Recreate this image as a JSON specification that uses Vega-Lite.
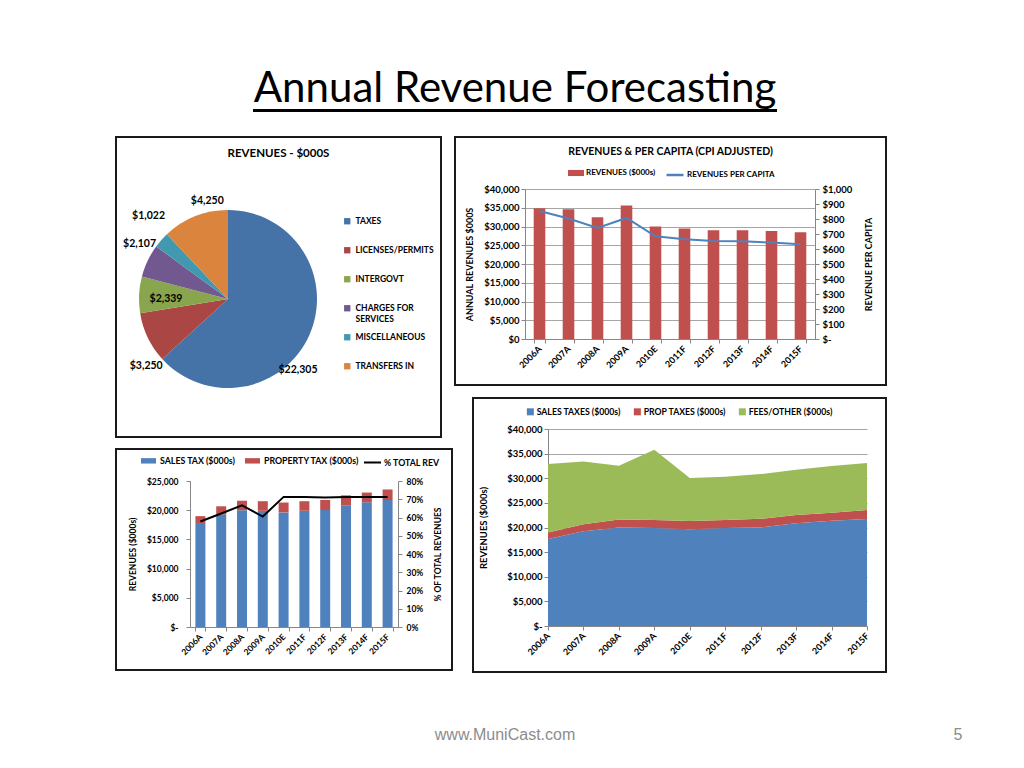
{
  "$schema": "https://vega.github.io/schema/vega-lite/v6.json",
  "background": "white",
  "padding": {"left": 112, "top": 66, "right": 10, "bottom": 10},
  "spacing": 24,
  "resolve": {
    "scale": {"color": "independent", "fill": "independent", "stroke": "independent", "theta": "independent"},
    "legend": {"color": "independent", "fill": "independent", "stroke": "independent"}
  },
  "datasets": {
    "pie": [
      {"cat": "TAXES", "v": 22305},
      {"cat": "LICENSES/PERMITS", "v": 3250},
      {"cat": "INTERGOVT", "v": 2339},
      {"cat": "CHARGES FOR SERVICES", "v": 2107},
      {"cat": "MISCELLANEOUS", "v": 1022},
      {"cat": "TRANSFERS IN", "v": 4250}
    ],
    "combo": [
      {"year": "2006A", "rev": 34900, "pc": 853},
      {"year": "2007A", "rev": 34600, "pc": 803},
      {"year": "2008A", "rev": 32500, "pc": 740},
      {"year": "2009A", "rev": 35600, "pc": 807},
      {"year": "2010E", "rev": 30000, "pc": 685},
      {"year": "2011F", "rev": 29500, "pc": 665},
      {"year": "2012F", "rev": 29000, "pc": 653},
      {"year": "2013F", "rev": 29000, "pc": 651},
      {"year": "2014F", "rev": 28800, "pc": 643},
      {"year": "2015F", "rev": 28500, "pc": 631}
    ],
    "tax": [
      {"year": "2006A", "sales": 17650, "prop": 1330, "fees": 13890, "pct": 0.578},
      {"year": "2007A", "sales": 19250, "prop": 1420, "fees": 12740, "pct": 0.622},
      {"year": "2008A", "sales": 20000, "prop": 1620, "fees": 10910, "pct": 0.667},
      {"year": "2009A", "sales": 19900, "prop": 1640, "fees": 14250, "pct": 0.605},
      {"year": "2010E", "sales": 19620, "prop": 1690, "fees": 8720, "pct": 0.713},
      {"year": "2011F", "sales": 19900, "prop": 1640, "fees": 8750, "pct": 0.713},
      {"year": "2012F", "sales": 20020, "prop": 1740, "fees": 9080, "pct": 0.71},
      {"year": "2013F", "sales": 20860, "prop": 1680, "fees": 9180, "pct": 0.713},
      {"year": "2014F", "sales": 21350, "prop": 1670, "fees": 9450, "pct": 0.713},
      {"year": "2015F", "sales": 21730, "prop": 1820, "fees": 9530, "pct": 0.713}
    ]
  },
  "vconcat": [
    {
      "hconcat": [
        {"width": 1, "height": 1, "data": {"values": []}, "mark": "point"},
        {
          "width": 522, "height": 1,
          "view": {"stroke": "#000", "strokeWidth": 2},
          "data": {"values": [{"t": "Annual Revenue Forecasting"}]},
          "mark": {"type": "text", "font": "Lato", "fontSize": 42, "baseline": "alphabetic", "dy": -9, "color": "#000"},
          "encoding": {"text": {"field": "t", "type": "nominal"}}
        }
      ],
      "spacing": 135
    },
    {
      "resolve": {
        "scale": {"color": "independent", "fill": "independent", "stroke": "independent", "theta": "independent"},
        "legend": {"color": "independent", "fill": "independent", "stroke": "independent"}
      },
      "hconcat": [
        {
          "resolve": {
            "scale": {"color": "independent", "fill": "independent", "stroke": "independent", "theta": "independent"},
            "legend": {"color": "independent", "fill": "independent", "stroke": "independent"}
          },
          "vconcat": [
            {
              "width": 325, "height": 300,
              "view": {"stroke": "#1a1a1a", "strokeWidth": 2},
              "title": {"text": "REVENUES - $000S", "fontSize": 11.5, "frame": "group", "anchor": "middle", "offset": -22},
              "data": {"name": "pie"},
              "transform": [{"window": [{"op": "row_number", "as": "idx"}]}],
              "encoding": {
                "theta": {"field": "v", "type": "quantitative", "stack": true},
                "order": {"field": "idx", "type": "quantitative"}
              },
              "layer": [
                {
                  "mark": {"type": "arc", "outerRadius": 89, "x": 112, "y": 162},
                  "encoding": {
                    "color": {
                      "field": "cat", "type": "nominal",
                      "scale": {"domain": ["TAXES", "LICENSES/PERMITS", "INTERGOVT", "CHARGES FOR SERVICES", "MISCELLANEOUS", "TRANSFERS IN"],
                                "range": ["#4572A7", "#AA4643", "#89A54E", "#71588F", "#4198AF", "#DB843D"]},
                      "legend": {
                        "orient": "none", "direction": "vertical", "legendX": 227, "legendY": 80, "title": null,
                        "symbolType": "square", "symbolSize": 40, "symbolStrokeWidth": 0,
                        "labelFontSize": 8.5, "labelOffset": 4, "rowPadding": 9, "labelLimit": 200,
                        "labelExpr": "datum.label == 'CHARGES FOR SERVICES' ? ['CHARGES FOR', 'SERVICES'] : [datum.label, '']"
                      }
                    }
                  }
                },
                {
                  "mark": {"type": "text", "x": 112, "y": 162, "radius": 62, "thetaOffset": -0.05, "font": "Lato", "fontWeight": "bold", "fontSize": 10.5, "color": "#000"},
                  "encoding": {"text": {"condition": {"test": "datum.cat == 'INTERGOVT'", "field": "v", "type": "quantitative", "format": "$,.0f"}, "value": ""}}
                },
                {
                  "mark": {"type": "text", "x": 112, "y": 162, "radius": 104, "thetaOffset": 0.11, "font": "Lato", "fontWeight": "bold", "fontSize": 10.5, "color": "#000"},
                  "encoding": {"text": {"condition": {"test": "datum.cat == 'CHARGES FOR SERVICES'", "field": "v", "type": "quantitative", "format": "$,.0f"}, "value": ""}}
                },
                {
                  "mark": {"type": "text", "x": 112, "y": 162, "radius": 115, "thetaOffset": 0.085, "font": "Lato", "fontWeight": "bold", "fontSize": 10.5, "color": "#000"},
                  "encoding": {"text": {"condition": {"test": "datum.cat == 'MISCELLANEOUS'", "field": "v", "type": "quantitative", "format": "$,.0f"}, "value": ""}}
                },
                {
                  "mark": {"type": "text", "x": 112, "y": 162, "radius": 100, "thetaOffset": 0.38, "font": "Lato", "fontWeight": "bold", "fontSize": 10.5, "color": "#000"},
                  "encoding": {"text": {"condition": {"test": "datum.cat == 'TAXES'", "field": "v", "type": "quantitative", "format": "$,.0f"}, "value": ""}}
                },
                {
                  "mark": {"type": "text", "x": 112, "y": 162, "radius": 100, "thetaOffset": 0.17, "font": "Lato", "fontWeight": "bold", "fontSize": 10.5, "color": "#000"},
                  "encoding": {"text": {"condition": {"test": "datum.cat == 'TRANSFERS IN'", "field": "v", "type": "quantitative", "format": "$,.0f"}, "value": ""}}
                },
                {
                  "mark": {"type": "text", "x": 112, "y": 162, "radius": 106, "thetaOffset": -0.24, "font": "Lato", "fontWeight": "bold", "fontSize": 10.5, "color": "#000"},
                  "encoding": {"text": {"condition": {"test": "datum.cat == 'LICENSES/PERMITS'", "field": "v", "type": "quantitative", "format": "$,.0f"}, "value": ""}}
                }
              ]
            },
            {
              "width": 336, "height": 221,
              "view": {"stroke": "#1a1a1a", "strokeWidth": 2},
              "data": {"name": "tax"},
              "encoding": {
                "x": {
                  "field": "year", "type": "ordinal",
                  "scale": {"range": [74, 282], "paddingInner": 0.52, "paddingOuter": 0.26},
                  "axis": {"title": null, "labelAngle": -45, "labelAlign": "right", "labelBaseline": "middle", "offset": -43, "tickBand": "extent", "labelFontSize": 8.5, "labelPadding": 4, "grid": false}
                }
              },
              "layer": [
                {
                  "transform": [{"fold": ["sales", "prop"], "as": ["series", "v"]}],
                  "mark": {"type": "bar"},
                  "encoding": {
                    "y": {
                      "field": "v", "type": "quantitative", "stack": "zero",
                      "scale": {"domain": [0, 25000], "range": [178, 32], "nice": false},
                      "axis": {"title": "REVENUES ($000s)", "values": [0, 5000, 10000, 15000, 20000, 25000], "labelExpr": "datum.value == 0 ? '$-' : format(datum.value, '$,.0f')", "offset": -74, "grid": false, "labelFontSize": 8.5, "titleFontSize": 8.5, "labelPadding": 8, "titlePadding": 9}
                    },
                    "color": {
                      "field": "series", "type": "nominal",
                      "scale": {"domain": ["sales", "prop"], "range": ["#4F81BD", "#C0504D"]},
                      "legend": {
                        "orient": "none", "direction": "horizontal", "legendX": 25, "legendY": 4, "title": null,
                        "symbolType": "M-1,-0.36H1V0.36H-1Z", "symbolSize": 225, "symbolStrokeWidth": 0,
                        "labelFontSize": 8.8, "labelOffset": 4, "columnPadding": 9,
                        "labelExpr": "datum.label == 'sales' ? 'SALES TAX ($000s)' : 'PROPERTY TAX ($000s)'"
                      }
                    },
                    "order": {"field": "series", "sort": "descending"}
                  }
                },
                {
                  "mark": {"type": "line", "strokeWidth": 2},
                  "encoding": {
                    "y": {
                      "field": "pct", "type": "quantitative",
                      "scale": {"domain": [0, 0.8], "range": [178, 32], "nice": false},
                      "axis": {"orient": "right", "title": "% OF TOTAL REVENUES", "titleAngle": 270, "values": [0, 0.1, 0.2, 0.3, 0.4, 0.5, 0.6, 0.7, 0.8], "format": ".0%", "offset": -54, "grid": false, "labelFontSize": 8.5, "titleFontSize": 8.5, "labelPadding": 4, "titlePadding": 20}
                    },
                    "stroke": {
                      "datum": "% TOTAL REV",
                      "scale": {"range": ["#000000"]},
                      "legend": {"orient": "none", "legendX": 247, "legendY": 4, "title": null, "symbolType": "stroke", "symbolSize": 289, "symbolStrokeWidth": 2, "labelFontSize": 8.8, "labelOffset": 2}
                    }
                  }
                }
              ],
              "resolve": {"scale": {"y": "independent"}}
            }
          ],
          "spacing": 10
        },
        {
          "resolve": {
            "scale": {"color": "independent", "fill": "independent", "stroke": "independent", "theta": "independent"},
            "legend": {"color": "independent", "fill": "independent", "stroke": "independent"}
          },
          "vconcat": [
            {
              "width": 431, "height": 248,
              "view": {"stroke": "#1a1a1a", "strokeWidth": 2},
              "title": {"text": "REVENUES & PER CAPITA (CPI ADJUSTED)", "fontSize": 10.5, "frame": "group", "anchor": "middle", "offset": -20},
              "data": {"name": "combo"},
              "encoding": {
                "x": {
                  "field": "year", "type": "ordinal",
                  "scale": {"range": [70, 360], "paddingInner": 0.6, "paddingOuter": 0.3},
                  "axis": {"title": null, "labelAngle": -45, "labelAlign": "right", "labelBaseline": "middle", "offset": -46, "tickBand": "extent", "labelFontSize": 9, "labelPadding": 4, "grid": false}
                }
              },
              "layer": [
                {
                  "mark": {"type": "bar"},
                  "encoding": {
                    "y": {
                      "field": "rev", "type": "quantitative",
                      "scale": {"domain": [0, 40000], "range": [202, 52], "nice": false},
                      "axis": {"title": "ANNUAL REVENUES $000S", "values": [0, 5000, 10000, 15000, 20000, 25000, 30000, 35000, 40000], "format": "$,.0f", "offset": -70, "grid": true, "labelFontSize": 9.5, "labelPadding": 2, "titlePadding": 9}
                    },
                    "fill": {
                      "datum": "REVENUES ($000s)",
                      "scale": {"range": ["#C0504D"]},
                      "legend": {"orient": "none", "legendX": 113, "legendY": 28, "title": null, "symbolType": "M-1,-0.38H1V0.38H-1Z", "symbolSize": 256, "symbolStrokeWidth": 0, "labelFontSize": 8, "labelOffset": 2}
                    }
                  }
                },
                {
                  "mark": {"type": "line", "strokeWidth": 2},
                  "encoding": {
                    "y": {
                      "field": "pc", "type": "quantitative",
                      "scale": {"domain": [0, 1000], "range": [202, 52], "nice": false},
                      "axis": {"orient": "right", "title": "REVENUE PER CAPITA", "titleAngle": 270, "values": [0, 100, 200, 300, 400, 500, 600, 700, 800, 900, 1000], "labelExpr": "datum.value == 0 ? '$-' : format(datum.value, '$,.0f')", "offset": -71, "grid": false, "labelFontSize": 9.5, "labelPadding": 3, "titlePadding": 22}
                    },
                    "stroke": {
                      "datum": "REVENUES PER CAPITA",
                      "scale": {"range": ["#4F81BD"]},
                      "legend": {"orient": "none", "legendX": 210, "legendY": 28, "title": null, "symbolType": "stroke", "symbolSize": 289, "symbolStrokeWidth": 2.5, "labelFontSize": 8, "labelOffset": 2}
                    }
                  }
                }
              ],
              "resolve": {"scale": {"y": "independent"}}
            },
            {
              "resolve": {
                "scale": {"color": "independent", "fill": "independent", "stroke": "independent", "theta": "independent"},
                "legend": {"color": "independent", "fill": "independent", "stroke": "independent"}
              },
              "hconcat": [
                {"width": 1, "height": 1, "data": {"values": []}, "mark": "point"},
                {
                  "width": 413, "height": 274,
                  "view": {"stroke": "#1a1a1a", "strokeWidth": 2},
                  "data": {"name": "tax"},
                  "transform": [{"fold": ["sales", "prop", "fees"], "as": ["series", "v"]}],
                  "mark": {"type": "area"},
                  "encoding": {
                    "x": {
                      "field": "year", "type": "ordinal",
                      "scale": {"type": "point", "range": [75, 394], "padding": 0},
                      "axis": {"title": null, "labelAngle": -45, "labelAlign": "right", "labelBaseline": "middle", "offset": -46, "labelFontSize": 9, "labelPadding": 4, "grid": false}
                    },
                    "y": {
                      "field": "v", "type": "quantitative", "stack": "zero",
                      "scale": {"domain": [0, 40000], "range": [228, 31], "nice": false},
                      "axis": {"title": "REVENUES ($000s)", "values": [0, 5000, 10000, 15000, 20000, 25000, 30000, 35000, 40000], "labelExpr": "datum.value == 0 ? '$-' : format(datum.value, '$,.0f')", "offset": -75, "grid": true, "labelFontSize": 9.5, "titleFontSize": 9.5, "labelPadding": 2, "titlePadding": 18}
                    },
                    "color": {
                      "field": "series", "type": "nominal",
                      "scale": {"domain": ["sales", "prop", "fees"], "range": ["#4F81BD", "#C0504D", "#9BBB59"]},
                      "legend": {
                        "orient": "none", "direction": "horizontal", "legendX": 53, "legendY": 9, "title": null,
                        "symbolType": "square", "symbolSize": 49, "symbolStrokeWidth": 0,
                        "labelFontSize": 8.7, "labelOffset": 2, "columnPadding": 12,
                        "labelExpr": "datum.label == 'sales' ? 'SALES TAXES ($000s)' : datum.label == 'prop' ? 'PROP TAXES ($000s)' : 'FEES/OTHER ($000s)'"
                      }
                    },
                    "order": {"field": "series", "sort": "descending"}
                  }
                }
              ],
              "spacing": 16
            }
          ],
          "spacing": 11
        }
      ],
      "spacing": -2
    },
    {
      "width": 770, "height": 76,
      "data": {"values": [{"t": "www.MuniCast.com", "p": "5"}]},
      "layer": [
        {
          "mark": {"type": "text", "font": "Liberation Sans", "fontSize": 16, "color": "#8c8c8c", "dx": 4},
          "encoding": {"text": {"field": "t", "type": "nominal"}}
        },
        {
          "mark": {"type": "text", "font": "Liberation Sans", "fontSize": 16, "color": "#8c8c8c", "x": "width", "dx": 72},
          "encoding": {"text": {"field": "p", "type": "nominal"}}
        }
      ]
    }
  ],
  "config": {
    "font": "Lato",
    "view": {"stroke": null},
    "axis": {
      "labelFont": "Lato", "labelFontWeight": "bold", "labelFontSize": 9, "labelColor": "#000",
      "titleFont": "Lato", "titleFontWeight": "bold", "titleFontSize": 9, "titleColor": "#000",
      "domainColor": "#868686", "tickColor": "#868686", "gridColor": "#a6a6a6", "tickSize": 4,
      "labelOverlap": false, "labelFlush": false
    },
    "legend": {"labelFont": "Lato", "labelFontWeight": "bold", "labelFontSize": 8, "labelColor": "#000", "padding": 0},
    "title": {"font": "Lato", "fontWeight": "bold", "color": "#000"}
  }
}
